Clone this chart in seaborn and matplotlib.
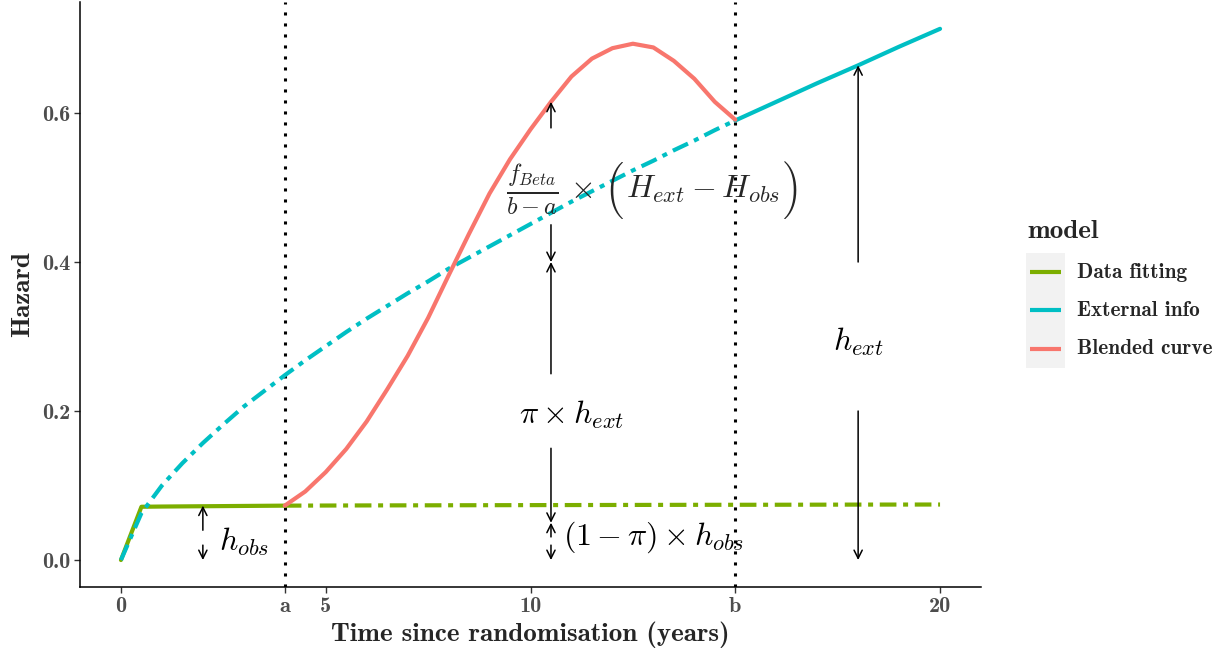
import os

import matplotlib
matplotlib.use("Agg")
import matplotlib.pyplot as plt
from matplotlib import font_manager
from matplotlib.lines import Line2D
from matplotlib.patches import Rectangle
import pandas as pd
import seaborn as sns

# data fitting curve (solid until a, extrapolated after)
fit_time = [0, 0.5, 1, 2, 3, 4]
fit_hazard = [0.0, 0.0715, 0.0718, 0.0722, 0.0726, 0.073]
fit_extrap_time = [4, 6, 8, 10, 12, 14, 16, 18, 20]
fit_extrap_hazard = [0.073, 0.0733, 0.0735, 0.0737, 0.0739, 0.0741, 0.0742, 0.0744, 0.0745]

# external info curve (dot-dash until b, solid after)
ext_time = [0, 0.5, 1, 1.5, 2, 2.5, 3, 3.5, 4, 4.5, 5, 5.5, 6, 6.5, 7, 7.5,
            8, 8.5, 9, 9.5, 10, 10.5, 11, 11.5, 12, 12.5, 13, 13.5, 14, 14.5, 15]
ext_hazard = [0.0, 0.063, 0.100, 0.130, 0.157, 0.182, 0.206, 0.227, 0.248, 0.268,
              0.287, 0.306, 0.324, 0.341, 0.358, 0.374, 0.391, 0.406, 0.421, 0.436,
              0.451, 0.466, 0.481, 0.495, 0.509, 0.523, 0.536, 0.550, 0.563, 0.577, 0.590]
ext_after_time = [15, 16, 17, 18, 19, 20]
ext_after_hazard = [0.590, 0.615, 0.640, 0.664, 0.689, 0.713]

# blended curve between a and b
blend_time = [4, 4.5, 5, 5.5, 6, 6.5, 7, 7.5, 8, 8.5, 9, 9.5, 10, 10.5,
              11, 11.5, 12, 12.5, 13, 13.5, 14, 14.5, 15]
blend_hazard = [0.073, 0.092, 0.118, 0.149, 0.186, 0.229, 0.274, 0.325, 0.382, 0.438,
                0.492, 0.538, 0.578, 0.615, 0.649, 0.673, 0.687, 0.693, 0.688, 0.670,
                0.646, 0.615, 0.591]

models = ["Data fitting", "External info", "Blended curve"]
colours = {"Data fitting": "#7CAE00", "External info": "#00BFC4", "Blended curve": "#F8766D"}

x_ticks = [0, 4, 5, 10, 15, 20]
x_tick_labels = ["0", "a", "5", "10", "b", "20"]
y_ticks = [0.0, 0.2, 0.4, 0.6]
y_tick_labels = ["0.0", "0.2", "0.4", "0.6"]
cut_points = [4, 15]

# annotation arrows: (x, tail y, head y)
arrows = [
    (2, 0.040, 0.073), (2, 0.020, 0.0),
    (10.5, 0.58, 0.615), (10.5, 0.45, 0.40), (10.5, 0.25, 0.40),
    (10.5, 0.15, 0.05), (10.5, 0.031, 0.05), (10.5, 0.020, 0.0),
    (18, 0.40, 0.664), (18, 0.20, 0.0),
]
labels = [
    (3.0, 0.024, r"$h_{obs}$"),
    (18, 0.293, r"$h_{ext}$"),
    (11, 0.195, r"$\pi \times h_{ext}$"),
    (13, 0.030, r"$(1-\pi) \times h_{obs}$"),
]
# blending term, built from pieces so the brackets can be tall
blend_pos = (9.40, 0.497)
blend_frac = r"$\frac{f_{Beta}}{b-a}$"
blend_inner = r"$H_{ext} - H_{obs}$"

parts = [
    ("Data fitting", "solid", fit_time, fit_hazard),
    ("Data fitting", "dotdash", fit_extrap_time, fit_extrap_hazard),
    ("External info", "dotdash", ext_time, ext_hazard),
    ("External info", "solid", ext_after_time, ext_after_hazard),
    ("Blended curve", "solid", blend_time, blend_hazard),
]
df = pd.concat(
    [pd.DataFrame({"time": t, "hazard": h, "model": m, "segment": s}) for m, s, t, h in parts],
    ignore_index=True,
)

sns.set_style("ticks")
plt.rcParams["mathtext.fontset"] = "cm"
plt.rcParams["axes.unicode_minus"] = False

# computer modern fonts shipped with matplotlib
ttf_dir = os.path.join(matplotlib.get_data_path(), "fonts", "ttf")
cmb_path = os.path.join(ttf_dir, "cmb10.ttf")
cmex_path = os.path.join(ttf_dir, "cmex10.ttf")
font_manager.fontManager.addfont(cmb_path)
cmb_name = font_manager.FontProperties(fname=cmb_path).get_name()
plt.rcParams["font.family"] = [cmb_name, "DejaVu Serif"]


def cmb(size):
    return font_manager.FontProperties(fname=cmb_path, size=size)


def cmex(size):
    return font_manager.FontProperties(fname=cmex_path, size=size)


MATH_SIZE = 23
W, H = 1223, 649
fig = plt.figure(figsize=(W / 100, H / 100), dpi=100)
ax = fig.add_axes([80 / W, (H - 587) / H, (981 - 80) / W, (587 - 2) / H])

sns.lineplot(
    data=df, x="time", y="hazard", hue="model", style="segment",
    hue_order=models, palette=colours,
    dashes={"solid": "", "dotdash": (4, 1.6, 1.2, 1.6)},
    estimator=None, sort=True, linewidth=3, legend=False, ax=ax,
)

for c in cut_points:
    ax.axvline(c, color="black", lw=2.2, ls=(0, (1, 2.6)), zorder=1)

for x, y0, y1 in arrows:
    ax.annotate("", xy=(x, y1), xytext=(x, y0),
                arrowprops=dict(arrowstyle="->,head_length=0.42,head_width=0.21",
                                lw=1.1, color="black", shrinkA=0, shrinkB=0,
                                mutation_scale=14))

for x, y, s in labels:
    ax.text(x, y, s, ha="center", va="center", fontsize=MATH_SIZE, color="black")

# fraction, times sign, then big cmex brackets around the difference
t_frac = ax.text(blend_pos[0], blend_pos[1], blend_frac, ha="left", va="center", fontsize=25)
t_times = ax.annotate(r"$\times$", xy=(1, 0.5), xycoords=t_frac, xytext=(8, 0),
                      textcoords="offset points", ha="left", va="center", fontsize=MATH_SIZE)
t_lpar = ax.annotate("\xb3", xy=(1, 0.5), xycoords=t_times, xytext=(9, 0),
                     textcoords="offset points", ha="left", va="center",
                     fontproperties=cmex(MATH_SIZE))
t_inner = ax.annotate(blend_inner, xy=(1, 0.5), xycoords=t_lpar, xytext=(1.5, 0),
                      textcoords="offset points", ha="left", va="center", fontsize=MATH_SIZE)
ax.annotate("\xb4", xy=(1, 0.5), xycoords=t_inner, xytext=(2, 0),
            textcoords="offset points", ha="left", va="center", fontproperties=cmex(MATH_SIZE))

ax.set_xlim(-1, 21)
ax.set_ylim(-0.0362, 0.749)
ax.set_xticks(x_ticks)
ax.set_xticklabels(x_tick_labels, fontproperties=cmb(16))
ax.set_yticks(y_ticks)
ax.set_yticklabels(y_tick_labels, fontproperties=cmb(16))
ax.tick_params(axis="both", length=4, width=1, color="#333333", labelcolor="#4D4D4D", pad=3)
for side in ["top", "right"]:
    ax.spines[side].set_visible(False)
for side in ["left", "bottom"]:
    ax.spines[side].set_linewidth(1.1)
    ax.spines[side].set_color("black")

ax.set_xlabel("Time since randomisation (years)", fontproperties=cmb(19.5), labelpad=4)
ax.set_ylabel("Hazard", fontproperties=cmb(19.5), labelpad=6)

# legend drawn by hand to get the grey key strip
fig.text(1027 / W, 1 - 232 / H, "model", fontproperties=cmb(19.5), va="center", ha="left")
fig.patches.append(Rectangle((1026 / W, 1 - 368 / H), 39 / W, 115 / H,
                             transform=fig.transFigure, facecolor="#F2F2F2", edgecolor="none"))
for i, m in enumerate(models):
    yc = 1 - (272 + 38.5 * i) / H
    fig.lines.append(Line2D([1030 / W, 1061 / W], [yc, yc], transform=fig.transFigure,
                            color=colours[m], lw=3, solid_capstyle="butt"))
    fig.text(1077 / W, yc, m, fontproperties=cmb(15.3), va="center", ha="left")

fig.savefig("out.png", dpi=100)
